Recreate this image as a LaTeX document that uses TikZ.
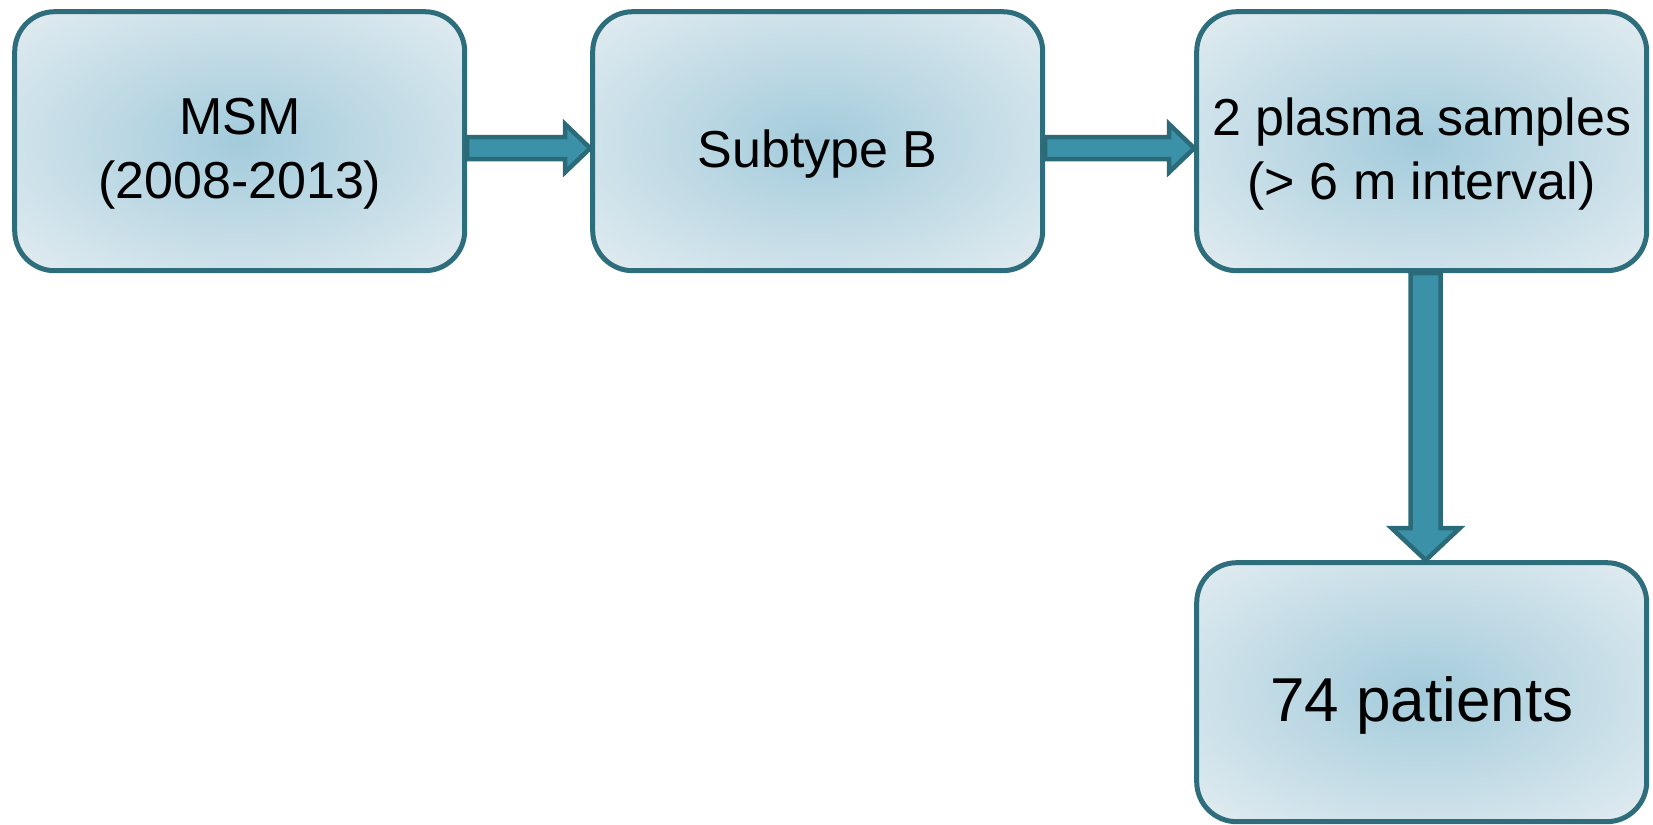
\documentclass[tikz,border=0pt]{standalone}
\usepackage{fontspec}
\setmainfont{Liberation Sans}
\usepackage{tikz}
\usetikzlibrary{calc,positioning}

\definecolor{boxline}{HTML}{2E6E7C}
\definecolor{boxin}{HTML}{A3CBDB}
\definecolor{boxout}{HTML}{DCE9EF}
\definecolor{arrowfill}{HTML}{3A91A8}
\definecolor{arrowline}{HTML}{2A6A79}

% soft glow inside the boxes
\pgfdeclareradialshading{boxglow}{\pgfpoint{0bp}{0bp}}{color(0bp)=(boxin); color(32bp)=(boxout); color(50bp)=(boxout)}

% wide arrow: from, to, half shaft, half head, head length
\newcommand{\fatarrow}[5]{%
  \coordinate (ahead) at ($(#2)!#5!(#1)$);
  \filldraw[blockarrow] ($(#1)!#3!90:(#2)$) -- ($(ahead)!#3!90:(#2)$)
    -- ($(ahead)!#4!90:(#2)$) -- (#2) -- ($(ahead)!#4!-90:(#2)$)
    -- ($(ahead)!#3!-90:(#2)$) -- ($(#1)!#3!-90:(#2)$) -- cycle;}

\begin{document}
\begin{tikzpicture}[
  every matrix/.style={ampersand replacement=\&,column sep=123pt,row sep=287pt,inner sep=0pt},
  stage/.style={draw=boxline,line width=5pt,rounded corners=40pt,shade,shading=boxglow,
    minimum width=450pt,minimum height=259pt,inner sep=0pt},
  caption/.style={yshift=-13pt,align=center,inner sep=0pt,font=\fontsize{52}{64}\selectfont},
  bigcaption/.style={caption,font=\fontsize{62}{74}\selectfont},
  blockarrow/.style={draw=arrowline,fill=arrowfill,line width=4.5pt,miter limit=10}]

    \useasboundingbox (0,0) rectangle (1653pt,824pt);

    \matrix (flow) [anchor=north west] at (12pt,815pt) {
        \node[stage,label={[caption]center:MSM\\(2008-2013)}](msm){};
            \& \node[stage,label={[caption]center:Subtype B}](subtype){};
            \&[26pt] \node[stage,label={[caption]center:2 plasma samples\\(> 6 m interval)}](samples){}; \\
        \& \& \node[stage,label={[bigcaption]center:74 patients}](patients){}; \\
    };

    \foreach \from/\to/\n in {msm/subtype/1, subtype/samples/2} {
        \coordinate (s\n) at ([yshift=-7pt]\from.east);
        \coordinate (e\n) at ([yshift=-7pt]\to.west);
        \fatarrow{s\n}{e\n}{11pt}{24pt}{25pt}
    }
    \coordinate (s3) at ([xshift=4pt]samples.south);
    \coordinate (e3) at ([xshift=4pt]patients.north);
    \fatarrow{s3}{e3}{15pt}{34pt}{32pt}
\end{tikzpicture}
\end{document}
